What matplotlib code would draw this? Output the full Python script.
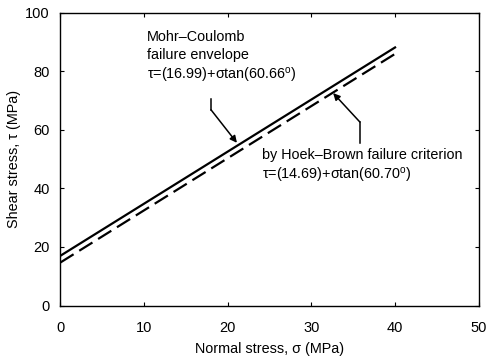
import matplotlib.pyplot as plt

plt.rcParams["font.family"] = ["Liberation Sans", "DejaVu Sans"]
plt.rcParams["mathtext.fontset"] = "custom"
plt.rcParams["mathtext.rm"] = "Liberation Sans"

# Envelope end points (sigma in MPa, tau in MPa)
sigma = [0, 40]
tau_mc = [17.0, 88.2]   # Mohr-Coulomb failure envelope
tau_hb = [14.7, 86.0]   # by Hoek-Brown failure criterion

x_ticks = [0, 10, 20, 30, 40, 50]
y_ticks = [0, 20, 40, 60, 80, 100]

mc_label = "Mohr\u2013Coulomb\nfailure envelope\n\u03c4=(16.99)+\u03c3tan(60.66$^{\\rm o}$)"
hb_label = "by Hoek\u2013Brown failure criterion\n\u03c4=(14.69)+\u03c3tan(60.70$^{\\rm o}$)"

fig = plt.figure(figsize=(4.87, 3.59), dpi=100)
ax = fig.add_axes([0.124, 0.149, 0.859, 0.815])

ax.plot(sigma, tau_mc, color="black", linewidth=1.6, linestyle="-")
ax.plot(sigma, tau_hb, color="black", linewidth=1.6, dashes=(7, 3))

ax.set_xlim(0, 50)
ax.set_ylim(0, 100)
ax.set_xticks(x_ticks)
ax.set_yticks(y_ticks)
ax.tick_params(direction="in", length=3, width=0.8, labelsize=10.5,
               top=True, right=True, colors="black")
ax.tick_params(axis="x", pad=11)
ax.tick_params(axis="y", pad=7.5)
for sp in ax.spines.values():
    sp.set_linewidth(1.0)

ax.set_xlabel("Normal stress, \u03c3 (MPa)", fontsize=10.4, labelpad=5)
ax.set_ylabel("Shear stress, \u03c4 (MPa)", fontsize=10.4, labelpad=3)

# Mohr-Coulomb callout
ax.text(10.3, 94.0, mc_label, fontsize=10.4, va="top", ha="left",
        linespacing=1.3)
ax.plot([18.0, 18.0], [70.6, 66.9], color="black", linewidth=1.1)
ax.annotate("", xy=(21.1, 55.6), xytext=(18.0, 66.9),
            arrowprops=dict(arrowstyle="-|>", color="black", lw=1.1,
                            mutation_scale=10, shrinkA=0, shrinkB=0))

# Hoek-Brown callout
ax.text(24.1, 54.0, hb_label, fontsize=10.4, va="top", ha="left",
        linespacing=1.3)
ax.plot([35.8, 35.8], [55.6, 62.7], color="black", linewidth=1.1)
ax.annotate("", xy=(32.6, 72.6), xytext=(35.8, 62.7),
            arrowprops=dict(arrowstyle="-|>", color="black", lw=1.1,
                            mutation_scale=10, shrinkA=0, shrinkB=0))

fig.savefig("out.png", dpi=100)
